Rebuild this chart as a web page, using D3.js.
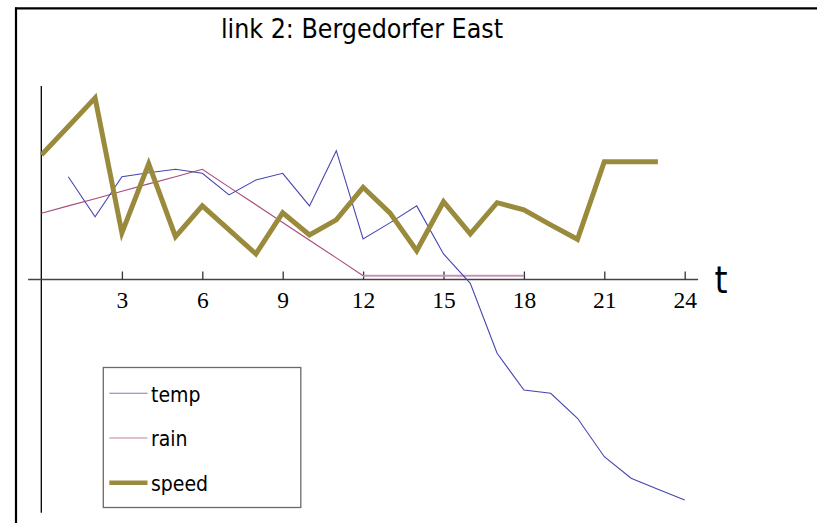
<!DOCTYPE html>
<html lang="en">
<head>
<meta charset="utf-8">
<title>link 2: Bergedorfer East</title>
<script src="https://d3js.org/d3.v7.min.js"></script>
<style>
  body { margin: 0; background: #fff; overflow: hidden; }
  svg { display: block; }
  .ttl, .leg, .tlab { font-family: "DejaVu Sans Condensed", "DejaVu Sans", sans-serif; font-stretch: condensed; fill: #000; }
  .axis text { font-family: "Liberation Serif", "Times New Roman", serif; font-size: 23.5px; fill: #000; }
  .axis line { stroke: #333; stroke-width: 1.3; }
</style>
</head>
<body>
<script>
// hours along the bottom axis
var hours = d3.range(0, 25);
var tickHours = [3, 6, 9, 12, 15, 18, 21, 24];

// values (same unitless scale for all series; null = no value)
var temp = [null, 51.4, 31.4, 51.4, 53.4, 55.1, 53.1, 42.3, 49.8, 53.1, 36.8, 64.4, 20.3,
  28.3, 36.8, 12.8, -1.9, -36.9, -55.3, -56.9, -69.4, -88.6, -99.4, -104.9, -110.3];
var rain = [33.1, 36.8, 40.4, 44.1, 47.8, 51.4, 55.1, 46.2, 37.4, 28.5, 19.6, 10.8, 1.9,
  1.9, 1.9, 1.9, 1.9, 1.9, 1.9, null, null, null, null, null, null];
var speed = [62.3, 76.5, 90.8, 23.3, 57.8, 21.4, 36.8, 24.8, 12.8, 33.4, 22.3, 29.8, 46.1,
  33.3, 14.4, 38.9, 22.8, 38.4, 34.8, 27.3, 20.1, 58.9, 58.9, 58.9, null];

var seriesNames = ["temp", "rain", "speed"];
var colors = { temp: "#4646b0", rain: "#a84a7c", speed: "#9a8a3c" };
var widths = { temp: 1.1, rain: 1.1, speed: 5 };

var W = 817, H = 523;
var svg = d3.select("body").append("svg").attr("width", W).attr("height", H);

var x = d3.scaleLinear().domain([0, 24]).range([41.5, 684.7]);
var y = d3.scaleLinear().domain([-120, 100]).range([519.5, 79.5]);

// frame
svg.append("line").attr("x1", 16).attr("x2", 16).attr("y1", 7.5).attr("y2", H)
  .attr("stroke", "#000").attr("stroke-width", 2.2);
svg.append("line").attr("x1", 15).attr("x2", W).attr("y1", 8.4).attr("y2", 8.4)
  .attr("stroke", "#000").attr("stroke-width", 2.4);

svg.append("text").attr("class", "ttl")
  .attr("x", 362).attr("y", 37.5).attr("text-anchor", "middle")
  .style("font-size", "26.5px")
  .text("link 2: Bergedorfer East");

// y axis (no ticks)
svg.append("line")
  .attr("x1", x(0) - 0.2).attr("x2", x(0) - 0.2)
  .attr("y1", y(96.7)).attr("y2", y(-116.6))
  .attr("stroke", "#000").attr("stroke-width", 1.3);

// x axis
svg.append("line")
  .attr("x1", x(-0.5)).attr("x2", x(24.5))
  .attr("y1", y(0)).attr("y2", y(0))
  .attr("stroke", "#444").attr("stroke-width", 1.4);

var gx = svg.append("g").attr("class", "axis")
  .attr("transform", "translate(0," + y(0) + ")")
  .call(d3.axisBottom(x).tickValues(tickHours).tickSize(-8).tickPadding(12));
gx.select(".domain").remove();

svg.append("text").attr("class", "tlab")
  .attr("x", 714.5).attr("y", 292.5).style("font-size", "37px").text("t");

// lines
var line = d3.line()
  .defined(function (d) { return d.v !== null; })
  .x(function (d) { return x(d.t); })
  .y(function (d) { return y(d.v); });

var dataBy = { temp: temp, rain: rain, speed: speed };

// rain: sloped part thin, flat part on zero drawn lighter and thicker
var rainPts = hours.map(function (t) { return { t: t, v: rain[t] }; });
svg.append("path")
  .attr("d", line(rainPts.filter(function (d) { return d.t <= 12; })))
  .attr("fill", "none").attr("stroke", colors.rain).attr("stroke-width", widths.rain);
svg.append("path")
  .attr("d", line(rainPts.filter(function (d) { return d.t >= 12; })))
  .attr("fill", "none").attr("stroke", "#c892b8").attr("stroke-width", 2);

["temp", "speed"].forEach(function (name) {
  var pts = hours.map(function (t) { return { t: t, v: dataBy[name][t] }; });
  svg.append("path")
    .attr("d", line(pts))
    .attr("fill", "none")
    .attr("stroke", colors[name])
    .attr("stroke-width", widths[name])
    .attr("stroke-linejoin", "miter");
});

// legend
var leg = svg.append("g");
leg.append("rect").attr("x", 103.3).attr("y", 367.5).attr("width", 197.5).attr("height", 140)
  .attr("fill", "none").attr("stroke", "#6a6a6a").attr("stroke-width", 1.3);

seriesNames.forEach(function (name, i) {
  var ly = 393.3 + i * 44.7;
  leg.append("line").attr("x1", 109.3).attr("x2", 147.5).attr("y1", ly).attr("y2", ly)
    .attr("stroke", colors[name])
    .attr("stroke-opacity", name === "speed" ? 1 : 0.7)
    .attr("stroke-width", name === "speed" ? 4.5 : 1.1);
  leg.append("text").attr("class", "leg")
    .attr("x", 151).attr("y", ly + 8.3).style("font-size", "21px").text(name);
});
</script>
</body>
</html>
